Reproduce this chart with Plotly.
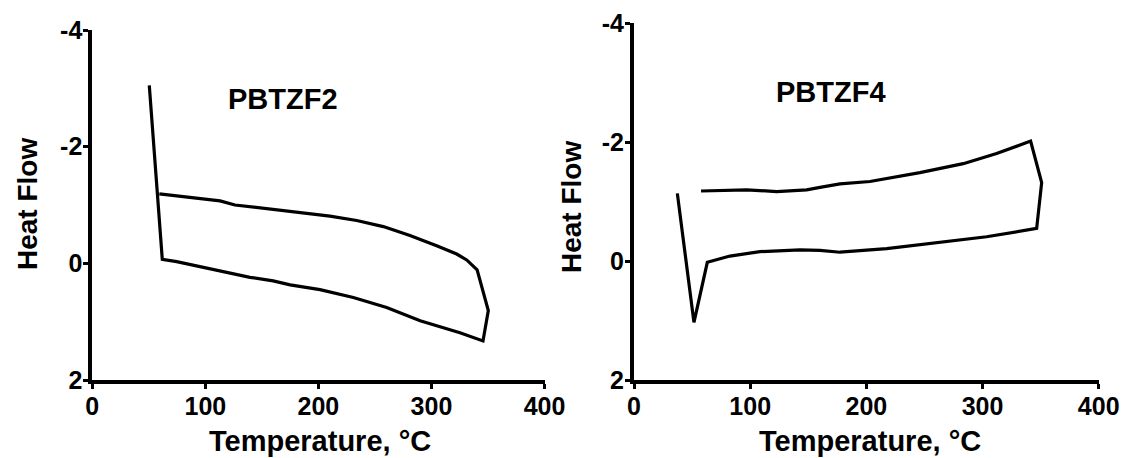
import plotly.graph_objects as go

# ---- data ----
pbtzf2_temp = [50.4, 61.9, 74.6, 92, 113, 139.5, 160, 175, 201.4, 230.9, 260.4, 290, 325.2, 345.6,
               350.3, 340.4, 331.2, 322.3, 304.6, 281, 257.4, 233.9, 210.2, 166, 126.2, 113, 92.3, 59.3]
pbtzf2_flow = [-3.05, -0.07, -0.03, 0.04, 0.126, 0.24, 0.30, 0.37, 0.45, 0.585, 0.757, 0.985, 1.19, 1.33,
               0.81, 0.11, -0.058, -0.16, -0.30, -0.476, -0.63, -0.734, -0.81, -0.91, -1.0, -1.07, -1.12, -1.19]

pbtzf4_temp = [37.3, 51.6, 63.1, 82.6, 108.4, 142.9, 160.1, 177.3, 217.5, 260.5, 303.5, 346.6,
               350.9, 341.4, 312.1, 283.4, 246.1, 203.1, 177.3, 160.1, 148.6, 122.8, 97, 57.7]
pbtzf4_flow = [-1.14, 1.03, 0.02, -0.085, -0.16, -0.19, -0.18, -0.15, -0.21, -0.31, -0.41, -0.55,
               -1.32, -2.02, -1.81, -1.64, -1.49, -1.34, -1.30, -1.24, -1.20, -1.17, -1.20, -1.18]

x_tick_vals = [0, 100, 200, 300, 400]
x_tick_text = ["0", "100", "200", "300", "400"]
y_tick_vals = [-4, -2, 0, 2]
y_tick_text = ["-4", "-2", "0", "2"]

panel_names = ["PBTZF2", "PBTZF4"]
x_title = "Temperature, °C"
y_title = "Heat Flow"

W, H = 1123, 458
FONT = "Liberation Sans, Arial, sans-serif"

fig = go.Figure()
fig.add_trace(go.Scatter(x=pbtzf2_temp, y=pbtzf2_flow, mode="lines",
                         line=dict(color="black", width=3.2), xaxis="x", yaxis="y",
                         showlegend=False, hoverinfo="skip"))
fig.add_trace(go.Scatter(x=pbtzf4_temp, y=pbtzf4_flow, mode="lines",
                         line=dict(color="black", width=3.2), xaxis="x2", yaxis="y2",
                         showlegend=False, hoverinfo="skip"))

def px_x(p):
    return p / W

def px_y(p):
    return 1 - p / H

bold = lambda labels: ["<b>%s</b>" % t for t in labels]

tickfont = dict(family=FONT, size=25, color="black", weight="bold")
common_x = dict(range=[0, 400], tickmode="array", tickvals=x_tick_vals, ticktext=bold(x_tick_text),
                showgrid=False, zeroline=False, showline=True, linecolor="black", linewidth=4,
                ticks="outside", ticklen=5, tickwidth=3, tickcolor="black", tickfont=tickfont,
                ticklabelstandoff=-4, automargin=False, fixedrange=True)
common_y = dict(range=[2, -4], tickmode="array", tickvals=y_tick_vals, ticktext=bold(y_tick_text),
                showgrid=False, zeroline=False, showline=True, linecolor="black", linewidth=4,
                ticks="outside", ticklen=5, tickwidth=3, tickcolor="black", tickfont=tickfont,
                ticklabelstandoff=-4, automargin=False, fixedrange=True)

fig.update_layout(
    width=W, height=H,
    margin=dict(l=0, r=0, t=0, b=0),
    paper_bgcolor="white", plot_bgcolor="white",
    xaxis=dict(domain=[px_x(92.3), px_x(544.5)], anchor="y", **common_x),
    yaxis=dict(domain=[px_y(380), px_y(30)], anchor="x", **common_y),
    xaxis2=dict(domain=[px_x(634), px_x(1098.7)], anchor="y2", **common_x),
    yaxis2=dict(domain=[px_y(380), px_y(23.4)], anchor="x2", **common_y),
)

titlefont = dict(family=FONT, size=29, color="black", weight="bold")
yfont = dict(family=FONT, size=28, color="black", weight="bold")
annos = [
    dict(text=panel_names[0], x=168.4, y=-2.81, xref="x", yref="y", font=titlefont),
    dict(text=panel_names[1], x=169.4, y=-2.85, xref="x2", yref="y2", font=titlefont),
    dict(text=x_title, x=px_x(320), y=px_y(441), xref="paper", yref="paper", font=titlefont),
    dict(text=x_title, x=px_x(870), y=px_y(441), xref="paper", yref="paper", font=titlefont),
    dict(text=y_title, x=px_x(28), y=px_y(204), xref="paper", yref="paper", font=yfont, textangle=-90),
    dict(text=y_title, x=px_x(571), y=px_y(207), xref="paper", yref="paper", font=yfont, textangle=-90),
]
for a in annos:
    fig.add_annotation(showarrow=False, xanchor="center", yanchor="middle", **a)

fig.write_html("out.html", config={"displayModeBar": False},
               post_script="document.body.style.margin='0';document.body.style.overflow='hidden';")
